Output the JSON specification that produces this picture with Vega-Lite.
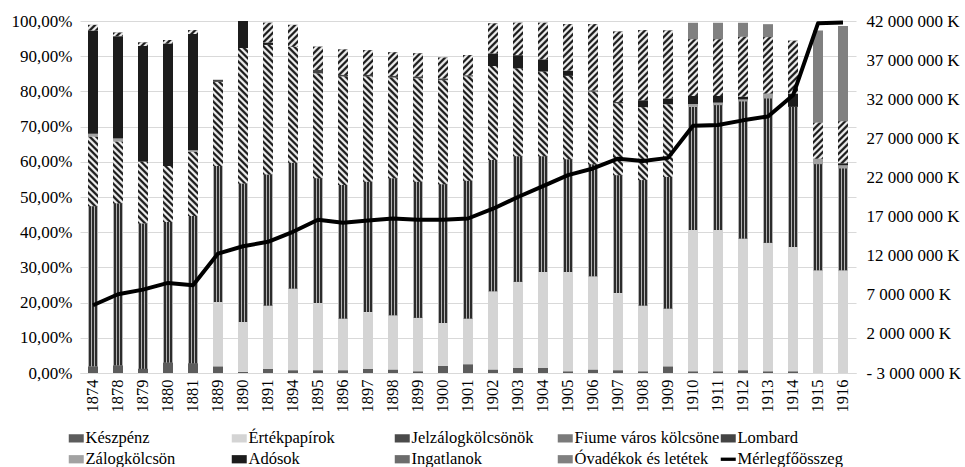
{
  "$schema": "https://vega.github.io/schema/vega-lite/v6.json",
  "width": 776,
  "height": 352,
  "autosize": {"type": "none"},
  "padding": {"left": 80, "top": 21, "right": 109, "bottom": 94},
  "background": "white",
  "params": [
    {"name": "hatch", "value": [
      {"offset": 0, "color": "#1e1e1e"}, {"offset": 0.01, "color": "#1e1e1e"}, {"offset": 0.02, "color": "#ececec"}, {"offset": 0.03, "color": "#ececec"},
      {"offset": 0.04, "color": "#1e1e1e"}, {"offset": 0.05, "color": "#1e1e1e"}, {"offset": 0.06, "color": "#ececec"}, {"offset": 0.07, "color": "#ececec"},
      {"offset": 0.08, "color": "#1e1e1e"}, {"offset": 0.09, "color": "#1e1e1e"}, {"offset": 0.10, "color": "#ececec"}, {"offset": 0.11, "color": "#ececec"},
      {"offset": 0.12, "color": "#1e1e1e"}, {"offset": 0.13, "color": "#1e1e1e"}, {"offset": 0.14, "color": "#ececec"}, {"offset": 0.15, "color": "#ececec"},
      {"offset": 0.16, "color": "#1e1e1e"}, {"offset": 0.17, "color": "#1e1e1e"}, {"offset": 0.18, "color": "#ececec"}, {"offset": 0.19, "color": "#ececec"},
      {"offset": 0.20, "color": "#1e1e1e"}, {"offset": 0.21, "color": "#1e1e1e"}, {"offset": 0.22, "color": "#ececec"}, {"offset": 0.23, "color": "#ececec"},
      {"offset": 0.24, "color": "#1e1e1e"}, {"offset": 0.25, "color": "#1e1e1e"}, {"offset": 0.26, "color": "#ececec"}, {"offset": 0.27, "color": "#ececec"},
      {"offset": 0.28, "color": "#1e1e1e"}, {"offset": 0.29, "color": "#1e1e1e"}, {"offset": 0.30, "color": "#ececec"}, {"offset": 0.31, "color": "#ececec"},
      {"offset": 0.32, "color": "#1e1e1e"}, {"offset": 0.33, "color": "#1e1e1e"}, {"offset": 0.34, "color": "#ececec"}, {"offset": 0.35, "color": "#ececec"},
      {"offset": 0.36, "color": "#1e1e1e"}, {"offset": 0.37, "color": "#1e1e1e"}, {"offset": 0.38, "color": "#ececec"}, {"offset": 0.39, "color": "#ececec"},
      {"offset": 0.40, "color": "#1e1e1e"}, {"offset": 0.41, "color": "#1e1e1e"}, {"offset": 0.42, "color": "#ececec"}, {"offset": 0.43, "color": "#ececec"},
      {"offset": 0.44, "color": "#1e1e1e"}, {"offset": 0.45, "color": "#1e1e1e"}, {"offset": 0.46, "color": "#ececec"}, {"offset": 0.47, "color": "#ececec"},
      {"offset": 0.48, "color": "#1e1e1e"}, {"offset": 0.49, "color": "#1e1e1e"}, {"offset": 0.50, "color": "#ececec"}, {"offset": 0.51, "color": "#ececec"},
      {"offset": 0.52, "color": "#1e1e1e"}, {"offset": 0.53, "color": "#1e1e1e"}, {"offset": 0.54, "color": "#ececec"}, {"offset": 0.55, "color": "#ececec"},
      {"offset": 0.56, "color": "#1e1e1e"}, {"offset": 0.57, "color": "#1e1e1e"}, {"offset": 0.58, "color": "#ececec"}, {"offset": 0.59, "color": "#ececec"},
      {"offset": 0.60, "color": "#1e1e1e"}, {"offset": 0.61, "color": "#1e1e1e"}, {"offset": 0.62, "color": "#ececec"}, {"offset": 0.63, "color": "#ececec"},
      {"offset": 0.64, "color": "#1e1e1e"}, {"offset": 0.65, "color": "#1e1e1e"}, {"offset": 0.66, "color": "#ececec"}, {"offset": 0.67, "color": "#ececec"},
      {"offset": 0.68, "color": "#1e1e1e"}, {"offset": 0.69, "color": "#1e1e1e"}, {"offset": 0.70, "color": "#ececec"}, {"offset": 0.71, "color": "#ececec"},
      {"offset": 0.72, "color": "#1e1e1e"}, {"offset": 0.73, "color": "#1e1e1e"}, {"offset": 0.74, "color": "#ececec"}, {"offset": 0.75, "color": "#ececec"},
      {"offset": 0.76, "color": "#1e1e1e"}, {"offset": 0.77, "color": "#1e1e1e"}, {"offset": 0.78, "color": "#ececec"}, {"offset": 0.79, "color": "#ececec"},
      {"offset": 0.80, "color": "#1e1e1e"}, {"offset": 0.81, "color": "#1e1e1e"}, {"offset": 0.82, "color": "#ececec"}, {"offset": 0.83, "color": "#ececec"},
      {"offset": 0.84, "color": "#1e1e1e"}, {"offset": 0.85, "color": "#1e1e1e"}, {"offset": 0.86, "color": "#ececec"}, {"offset": 0.87, "color": "#ececec"},
      {"offset": 0.88, "color": "#1e1e1e"}, {"offset": 0.89, "color": "#1e1e1e"}, {"offset": 0.90, "color": "#ececec"}, {"offset": 0.91, "color": "#ececec"},
      {"offset": 0.92, "color": "#1e1e1e"}, {"offset": 0.93, "color": "#1e1e1e"}, {"offset": 0.94, "color": "#ececec"}, {"offset": 0.95, "color": "#ececec"},
      {"offset": 0.96, "color": "#1e1e1e"}, {"offset": 0.97, "color": "#1e1e1e"}, {"offset": 0.98, "color": "#ececec"}, {"offset": 0.99, "color": "#ececec"},
      {"offset": 1, "color": "#1e1e1e"}
    ]},
    {"name": "vstripe", "value": {"gradient": "linear", "x1": 0, "y1": 0, "x2": 1, "y2": 0, "stops": [
      {"offset": 0, "color": "#b4b4b4"}, {"offset": 0.1, "color": "#b4b4b4"},
      {"offset": 0.1, "color": "#2c2c2c"}, {"offset": 0.3, "color": "#2c2c2c"},
      {"offset": 0.3, "color": "#b4b4b4"}, {"offset": 0.4, "color": "#b4b4b4"},
      {"offset": 0.4, "color": "#2c2c2c"}, {"offset": 0.6, "color": "#2c2c2c"},
      {"offset": 0.6, "color": "#b4b4b4"}, {"offset": 0.7, "color": "#b4b4b4"},
      {"offset": 0.7, "color": "#2c2c2c"}, {"offset": 0.9, "color": "#2c2c2c"},
      {"offset": 0.9, "color": "#b4b4b4"}, {"offset": 1, "color": "#b4b4b4"}
    ]}}
  ],
  "config": {
    "font": "Liberation Serif",
    "view": {"stroke": null},
    "axis": {"labelFont": "Liberation Serif", "labelFontSize": 17, "labelColor": "#000", "ticks": false, "domain": false, "title": null, "labelOverlap": false}
  },
  "datasets": {
    "bars": [
      {"year": "1874", "series": "Készpénz", "value": 1.9}, {"year": "1874", "series": "Jelzálogkölcsönök", "value": 45.5}, {"year": "1874", "series": "Fiume város kölcsöne", "value": 19.7}, {"year": "1874", "series": "Zálogkölcsön", "value": 0.9}, {"year": "1874", "series": "Adósok", "value": 29.3}, {"year": "1874", "series": "Ingatlanok", "value": 1.6},
      {"year": "1878", "series": "Készpénz", "value": 2.2}, {"year": "1878", "series": "Jelzálogkölcsönök", "value": 46.0}, {"year": "1878", "series": "Fiume város kölcsöne", "value": 17.5}, {"year": "1878", "series": "Zálogkölcsön", "value": 0.9}, {"year": "1878", "series": "Adósok", "value": 29.1}, {"year": "1878", "series": "Ingatlanok", "value": 1.0},
      {"year": "1879", "series": "Készpénz", "value": 1.2}, {"year": "1879", "series": "Jelzálogkölcsönök", "value": 41.3}, {"year": "1879", "series": "Fiume város kölcsöne", "value": 17.5}, {"year": "1879", "series": "Adósok", "value": 32.9}, {"year": "1879", "series": "Ingatlanok", "value": 1.0},
      {"year": "1880", "series": "Készpénz", "value": 3.0}, {"year": "1880", "series": "Jelzálogkölcsönök", "value": 39.9}, {"year": "1880", "series": "Fiume város kölcsöne", "value": 15.9}, {"year": "1880", "series": "Adósok", "value": 34.8}, {"year": "1880", "series": "Ingatlanok", "value": 1.0},
      {"year": "1881", "series": "Készpénz", "value": 2.8}, {"year": "1881", "series": "Jelzálogkölcsönök", "value": 41.8}, {"year": "1881", "series": "Fiume város kölcsöne", "value": 18.2}, {"year": "1881", "series": "Zálogkölcsön", "value": 0.5}, {"year": "1881", "series": "Adósok", "value": 33.0}, {"year": "1881", "series": "Ingatlanok", "value": 1.1},
      {"year": "1889", "series": "Készpénz", "value": 1.9}, {"year": "1889", "series": "Értékpapírok", "value": 18.3}, {"year": "1889", "series": "Jelzálogkölcsönök", "value": 38.6}, {"year": "1889", "series": "Fiume város kölcsöne", "value": 23.9}, {"year": "1889", "series": "Lombard", "value": 0.6},
      {"year": "1890", "series": "Készpénz", "value": 0.3}, {"year": "1890", "series": "Értékpapírok", "value": 14.2}, {"year": "1890", "series": "Jelzálogkölcsönök", "value": 39.3}, {"year": "1890", "series": "Fiume város kölcsöne", "value": 38.5}, {"year": "1890", "series": "Adósok", "value": 7.7},
      {"year": "1891", "series": "Készpénz", "value": 1.2}, {"year": "1891", "series": "Értékpapírok", "value": 18.0}, {"year": "1891", "series": "Jelzálogkölcsönök", "value": 37.2}, {"year": "1891", "series": "Fiume város kölcsöne", "value": 36.8}, {"year": "1891", "series": "Adósok", "value": 0.7}, {"year": "1891", "series": "Ingatlanok", "value": 5.6},
      {"year": "1894", "series": "Készpénz", "value": 0.8}, {"year": "1894", "series": "Értékpapírok", "value": 23.2}, {"year": "1894", "series": "Jelzálogkölcsönök", "value": 35.7}, {"year": "1894", "series": "Fiume város kölcsöne", "value": 33.0}, {"year": "1894", "series": "Ingatlanok", "value": 6.2},
      {"year": "1895", "series": "Készpénz", "value": 0.8}, {"year": "1895", "series": "Értékpapírok", "value": 19.1}, {"year": "1895", "series": "Jelzálogkölcsönök", "value": 35.4}, {"year": "1895", "series": "Fiume város kölcsöne", "value": 29.8}, {"year": "1895", "series": "Lombard", "value": 1.0}, {"year": "1895", "series": "Ingatlanok", "value": 6.6},
      {"year": "1896", "series": "Készpénz", "value": 0.8}, {"year": "1896", "series": "Értékpapírok", "value": 14.7}, {"year": "1896", "series": "Jelzálogkölcsönök", "value": 37.9}, {"year": "1896", "series": "Fiume város kölcsöne", "value": 30.8}, {"year": "1896", "series": "Lombard", "value": 0.5}, {"year": "1896", "series": "Ingatlanok", "value": 7.2},
      {"year": "1897", "series": "Készpénz", "value": 1.2}, {"year": "1897", "series": "Értékpapírok", "value": 16.1}, {"year": "1897", "series": "Jelzálogkölcsönök", "value": 37.0}, {"year": "1897", "series": "Fiume város kölcsöne", "value": 29.9}, {"year": "1897", "series": "Lombard", "value": 0.5}, {"year": "1897", "series": "Ingatlanok", "value": 7.0},
      {"year": "1898", "series": "Készpénz", "value": 1.0}, {"year": "1898", "series": "Értékpapírok", "value": 15.4}, {"year": "1898", "series": "Jelzálogkölcsönök", "value": 38.9}, {"year": "1898", "series": "Fiume város kölcsöne", "value": 28.6}, {"year": "1898", "series": "Lombard", "value": 0.5}, {"year": "1898", "series": "Ingatlanok", "value": 6.7},
      {"year": "1899", "series": "Készpénz", "value": 0.5}, {"year": "1899", "series": "Értékpapírok", "value": 15.2}, {"year": "1899", "series": "Jelzálogkölcsönök", "value": 38.6}, {"year": "1899", "series": "Fiume város kölcsöne", "value": 29.4}, {"year": "1899", "series": "Lombard", "value": 0.5}, {"year": "1899", "series": "Ingatlanok", "value": 6.6},
      {"year": "1900", "series": "Készpénz", "value": 2.0}, {"year": "1900", "series": "Értékpapírok", "value": 12.2}, {"year": "1900", "series": "Jelzálogkölcsönök", "value": 39.4}, {"year": "1900", "series": "Fiume város kölcsöne", "value": 29.6}, {"year": "1900", "series": "Lombard", "value": 0.5}, {"year": "1900", "series": "Ingatlanok", "value": 5.9},
      {"year": "1901", "series": "Készpénz", "value": 2.5}, {"year": "1901", "series": "Értékpapírok", "value": 13.0}, {"year": "1901", "series": "Jelzálogkölcsönök", "value": 39.1}, {"year": "1901", "series": "Fiume város kölcsöne", "value": 29.6}, {"year": "1901", "series": "Lombard", "value": 0.4}, {"year": "1901", "series": "Ingatlanok", "value": 5.7},
      {"year": "1902", "series": "Készpénz", "value": 1.0}, {"year": "1902", "series": "Értékpapírok", "value": 22.2}, {"year": "1902", "series": "Jelzálogkölcsönök", "value": 37.3}, {"year": "1902", "series": "Fiume város kölcsöne", "value": 26.7}, {"year": "1902", "series": "Adósok", "value": 3.6}, {"year": "1902", "series": "Ingatlanok", "value": 8.5},
      {"year": "1903", "series": "Készpénz", "value": 1.5}, {"year": "1903", "series": "Értékpapírok", "value": 24.4}, {"year": "1903", "series": "Jelzálogkölcsönök", "value": 35.7}, {"year": "1903", "series": "Fiume város kölcsöne", "value": 24.9}, {"year": "1903", "series": "Adósok", "value": 3.8}, {"year": "1903", "series": "Ingatlanok", "value": 9.2},
      {"year": "1904", "series": "Készpénz", "value": 1.5}, {"year": "1904", "series": "Értékpapírok", "value": 27.2}, {"year": "1904", "series": "Jelzálogkölcsönök", "value": 32.9}, {"year": "1904", "series": "Fiume város kölcsöne", "value": 24.0}, {"year": "1904", "series": "Adósok", "value": 3.5}, {"year": "1904", "series": "Ingatlanok", "value": 10.4},
      {"year": "1905", "series": "Készpénz", "value": 0.5}, {"year": "1905", "series": "Értékpapírok", "value": 28.2}, {"year": "1905", "series": "Jelzálogkölcsönök", "value": 32.0}, {"year": "1905", "series": "Fiume város kölcsöne", "value": 23.7}, {"year": "1905", "series": "Adósok", "value": 1.5}, {"year": "1905", "series": "Ingatlanok", "value": 13.2},
      {"year": "1906", "series": "Készpénz", "value": 1.0}, {"year": "1906", "series": "Értékpapírok", "value": 26.5}, {"year": "1906", "series": "Jelzálogkölcsönök", "value": 31.8}, {"year": "1906", "series": "Fiume város kölcsöne", "value": 20.6}, {"year": "1906", "series": "Lombard", "value": 0.4}, {"year": "1906", "series": "Ingatlanok", "value": 18.8},
      {"year": "1907", "series": "Készpénz", "value": 0.8}, {"year": "1907", "series": "Értékpapírok", "value": 21.9}, {"year": "1907", "series": "Jelzálogkölcsönök", "value": 33.5}, {"year": "1907", "series": "Fiume város kölcsöne", "value": 20.4}, {"year": "1907", "series": "Lombard", "value": 0.4}, {"year": "1907", "series": "Ingatlanok", "value": 20.0},
      {"year": "1908", "series": "Készpénz", "value": 0.5}, {"year": "1908", "series": "Értékpapírok", "value": 18.7}, {"year": "1908", "series": "Jelzálogkölcsönök", "value": 35.6}, {"year": "1908", "series": "Fiume város kölcsöne", "value": 20.7}, {"year": "1908", "series": "Adósok", "value": 2.0}, {"year": "1908", "series": "Ingatlanok", "value": 19.9},
      {"year": "1909", "series": "Készpénz", "value": 1.9}, {"year": "1909", "series": "Értékpapírok", "value": 16.4}, {"year": "1909", "series": "Jelzálogkölcsönök", "value": 37.4}, {"year": "1909", "series": "Fiume város kölcsöne", "value": 20.6}, {"year": "1909", "series": "Adósok", "value": 1.7}, {"year": "1909", "series": "Ingatlanok", "value": 19.3},
      {"year": "1910", "series": "Készpénz", "value": 0.5}, {"year": "1910", "series": "Értékpapírok", "value": 40.1}, {"year": "1910", "series": "Jelzálogkölcsönök", "value": 35.0}, {"year": "1910", "series": "Zálogkölcsön", "value": 0.8}, {"year": "1910", "series": "Adósok", "value": 2.3}, {"year": "1910", "series": "Ingatlanok", "value": 16.1}, {"year": "1910", "series": "Óvadékok és letétek", "value": 4.7},
      {"year": "1911", "series": "Készpénz", "value": 0.5}, {"year": "1911", "series": "Értékpapírok", "value": 40.1}, {"year": "1911", "series": "Jelzálogkölcsönök", "value": 35.5}, {"year": "1911", "series": "Zálogkölcsön", "value": 0.7}, {"year": "1911", "series": "Adósok", "value": 1.9}, {"year": "1911", "series": "Ingatlanok", "value": 16.1}, {"year": "1911", "series": "Óvadékok és letétek", "value": 4.7},
      {"year": "1912", "series": "Készpénz", "value": 0.8}, {"year": "1912", "series": "Értékpapírok", "value": 37.4}, {"year": "1912", "series": "Jelzálogkölcsönök", "value": 38.9}, {"year": "1912", "series": "Zálogkölcsön", "value": 0.6}, {"year": "1912", "series": "Adósok", "value": 0.8}, {"year": "1912", "series": "Ingatlanok", "value": 17.0}, {"year": "1912", "series": "Óvadékok és letétek", "value": 4.0},
      {"year": "1913", "series": "Készpénz", "value": 0.5}, {"year": "1913", "series": "Értékpapírok", "value": 36.5}, {"year": "1913", "series": "Jelzálogkölcsönök", "value": 41.0}, {"year": "1913", "series": "Zálogkölcsön", "value": 1.4}, {"year": "1913", "series": "Ingatlanok", "value": 16.0}, {"year": "1913", "series": "Óvadékok és letétek", "value": 3.7},
      {"year": "1914", "series": "Készpénz", "value": 0.5}, {"year": "1914", "series": "Értékpapírok", "value": 35.3}, {"year": "1914", "series": "Jelzálogkölcsönök", "value": 39.8}, {"year": "1914", "series": "Adósok", "value": 3.8}, {"year": "1914", "series": "Ingatlanok", "value": 15.0},
      {"year": "1915", "series": "Értékpapírok", "value": 29.2}, {"year": "1915", "series": "Jelzálogkölcsönök", "value": 30.1}, {"year": "1915", "series": "Zálogkölcsön", "value": 1.6}, {"year": "1915", "series": "Ingatlanok", "value": 10.2}, {"year": "1915", "series": "Óvadékok és letétek", "value": 26.2},
      {"year": "1916", "series": "Értékpapírok", "value": 29.2}, {"year": "1916", "series": "Jelzálogkölcsönök", "value": 28.9}, {"year": "1916", "series": "Zálogkölcsön", "value": 0.9}, {"year": "1916", "series": "Adósok", "value": 0.6}, {"year": "1916", "series": "Ingatlanok", "value": 11.9}, {"year": "1916", "series": "Óvadékok és letétek", "value": 27.1}
    ],
    "total": [
      {"year": "1874", "series": "Mérlegfőösszeg", "total": 5660000},
      {"year": "1878", "series": "Mérlegfőösszeg", "total": 7070000},
      {"year": "1879", "series": "Mérlegfőösszeg", "total": 7660000},
      {"year": "1880", "series": "Mérlegfőösszeg", "total": 8520000},
      {"year": "1881", "series": "Mérlegfőösszeg", "total": 8220000},
      {"year": "1889", "series": "Mérlegfőösszeg", "total": 12270000},
      {"year": "1890", "series": "Mérlegfőösszeg", "total": 13200000},
      {"year": "1891", "series": "Mérlegfőösszeg", "total": 13770000},
      {"year": "1894", "series": "Mérlegfőösszeg", "total": 15050000},
      {"year": "1895", "series": "Mérlegfőösszeg", "total": 16600000},
      {"year": "1896", "series": "Mérlegfőösszeg", "total": 16200000},
      {"year": "1897", "series": "Mérlegfőösszeg", "total": 16500000},
      {"year": "1898", "series": "Mérlegfőösszeg", "total": 16750000},
      {"year": "1899", "series": "Mérlegfőösszeg", "total": 16600000},
      {"year": "1900", "series": "Mérlegfőösszeg", "total": 16600000},
      {"year": "1901", "series": "Mérlegfőösszeg", "total": 16750000},
      {"year": "1902", "series": "Mérlegfőösszeg", "total": 18000000},
      {"year": "1903", "series": "Mérlegfőösszeg", "total": 19500000},
      {"year": "1904", "series": "Mérlegfőösszeg", "total": 20900000},
      {"year": "1905", "series": "Mérlegfőösszeg", "total": 22300000},
      {"year": "1906", "series": "Mérlegfőösszeg", "total": 23150000},
      {"year": "1907", "series": "Mérlegfőösszeg", "total": 24400000},
      {"year": "1908", "series": "Mérlegfőösszeg", "total": 24100000},
      {"year": "1909", "series": "Mérlegfőösszeg", "total": 24500000},
      {"year": "1910", "series": "Mérlegfőösszeg", "total": 28600000},
      {"year": "1911", "series": "Mérlegfőösszeg", "total": 28700000},
      {"year": "1912", "series": "Mérlegfőösszeg", "total": 29300000},
      {"year": "1913", "series": "Mérlegfőösszeg", "total": 29800000},
      {"year": "1914", "series": "Mérlegfőösszeg", "total": 32500000},
      {"year": "1915", "series": "Mérlegfőösszeg", "total": 41700000},
      {"year": "1916", "series": "Mérlegfőösszeg", "total": 41800000}
    ]
  },
  "encoding": {
    "x": {
      "field": "year", "type": "nominal", "sort": null,
      "scale": {"paddingInner": 0.6, "paddingOuter": 0.32},
      "axis": {"labelAngle": -90, "labelPadding": 6, "domain": true, "domainColor": "#d9d9d9", "labelFontSize": 16.5}
    }
  },
  "layer": [
    {
      "data": {"name": "bars"},
      "transform": [
        {"calculate": "indexof(['Készpénz','Értékpapírok','Jelzálogkölcsönök','Fiume város kölcsöne','Lombard','Zálogkölcsön','Adósok','Ingatlanok','Óvadékok és letétek'], datum.series)", "as": "ord"},
        {"stack": "value", "groupby": ["year"], "sort": [{"field": "ord", "order": "ascending"}], "as": ["v0", "v1"]}
      ],
      "encoding": {
        "y": {
          "field": "v1", "type": "quantitative",
          "scale": {"domain": [0, 100], "nice": false},
          "axis": {"orient": "left", "values": [0,10,20,30,40,50,60,70,80,90,100], "grid": true, "gridColor": "#d9d9d9", "labelPadding": 8, "labelOverlap": false,
            "labelExpr": "replace(format(datum.value, '.2f'), '.', ',') + '%'"}
        },
        "y2": {"field": "v0"}
      },
      "layer": [
        {
          "mark": {"type": "bar"},
          "encoding": {
            "color": {
              "field": "series", "type": "nominal",
              "scale": {
                "domain": ["Készpénz", "Értékpapírok", "Jelzálogkölcsönök", "Fiume város kölcsöne", "Lombard", "Zálogkölcsön", "Adósok", "Ingatlanok", "Óvadékok és letétek", "Mérlegfőösszeg"],
                "range": ["#5c5c5c", "#d4d4d4", "#4a4a4a", "#7a7a7a", "#444444", "#a2a2a2", "#1c1c1c", "#6c6c6c", "#808080", "#000000"]
              },
              "legend": {
                "orient": "none", "legendX": -12, "legendY": 409,
                "columns": 5, "direction": "horizontal", "gridAlign": "all",
                "columnPadding": 0, "rowPadding": 4,
                "title": null,
                "labelFont": "Liberation Serif", "labelFontSize": 16.5, "labelColor": "#000", "labelOffset": 1, "labelLimit": 220,
                "symbolSize": 225, "symbolStrokeWidth": 0,
                "encode": {
                  "symbols": {"update": {
                    "shape": {"signal": "datum.value === 'Mérlegfőösszeg' ? 'M-1,-0.22H1V0.22H-1Z' : 'M-1,-0.55H1V0.55H-1Z'"},
                    "fill": {"signal": "datum.value === 'Jelzálogkölcsönök' ? vstripe : datum.value === 'Fiume város kölcsöne' ? {gradient: 'linear', x1: 0, y1: 1, x2: 8.19, y2: 1 - 4.5, stops: hatch} : datum.value === 'Ingatlanok' ? {gradient: 'linear', x1: 0, y1: 0, x2: 8.19, y2: 4.5, stops: hatch} : scale('color', datum.value)"},
                    "strokeWidth": {"value": 0},
                    "opacity": {"value": 1}
                  }}
                }
              }
            }
          }
        },
        {
          "transform": [{"filter": "datum.series === 'Jelzálogkölcsönök'"}],
          "mark": {"type": "bar", "fill": {"expr": "vstripe"}}
        },
        {
          "transform": [{"filter": "datum.series === 'Fiume város kölcsöne'"}],
          "mark": {"type": "bar", "fill": {"expr": "{gradient: 'linear', x1: 0, y1: 1, x2: 1600 / (100 + pow((datum.v1 - datum.v0) * 3.52, 2)), y2: 1 - 160 * (datum.v1 - datum.v0) * 3.52 / (100 + pow((datum.v1 - datum.v0) * 3.52, 2)), stops: hatch}"}}
        },
        {
          "transform": [{"filter": "datum.series === 'Ingatlanok'"}],
          "mark": {"type": "bar", "fill": {"expr": "{gradient: 'linear', x1: 0, y1: 0, x2: 1600 / (100 + pow((datum.v1 - datum.v0) * 3.52, 2)), y2: 160 * (datum.v1 - datum.v0) * 3.52 / (100 + pow((datum.v1 - datum.v0) * 3.52, 2)), stops: hatch}"}}
        }
      ]
    },
    {
      "data": {"name": "total"},
      "mark": {"type": "line", "strokeWidth": 4, "strokeJoin": "round"},
      "encoding": {
        "y": {
          "field": "total", "type": "quantitative",
          "scale": {"domain": [-3000000, 42000000], "nice": false, "zero": false},
          "axis": {"orient": "right", "values": [-3000000, 2000000, 7000000, 12000000, 17000000, 22000000, 27000000, 32000000, 37000000, 42000000], "grid": false, "labelPadding": 10, "labelAlign": "left", "labelOverlap": false,
            "labelExpr": "(datum.value < 0 ? '- ' : '') + replace(format(abs(datum.value), ',d'), /,/g, ' ') + ' K'"}
        },
        "color": {"field": "series", "type": "nominal"}
      }
    }
  ],
  "resolve": {"scale": {"y": "independent"}}
}
